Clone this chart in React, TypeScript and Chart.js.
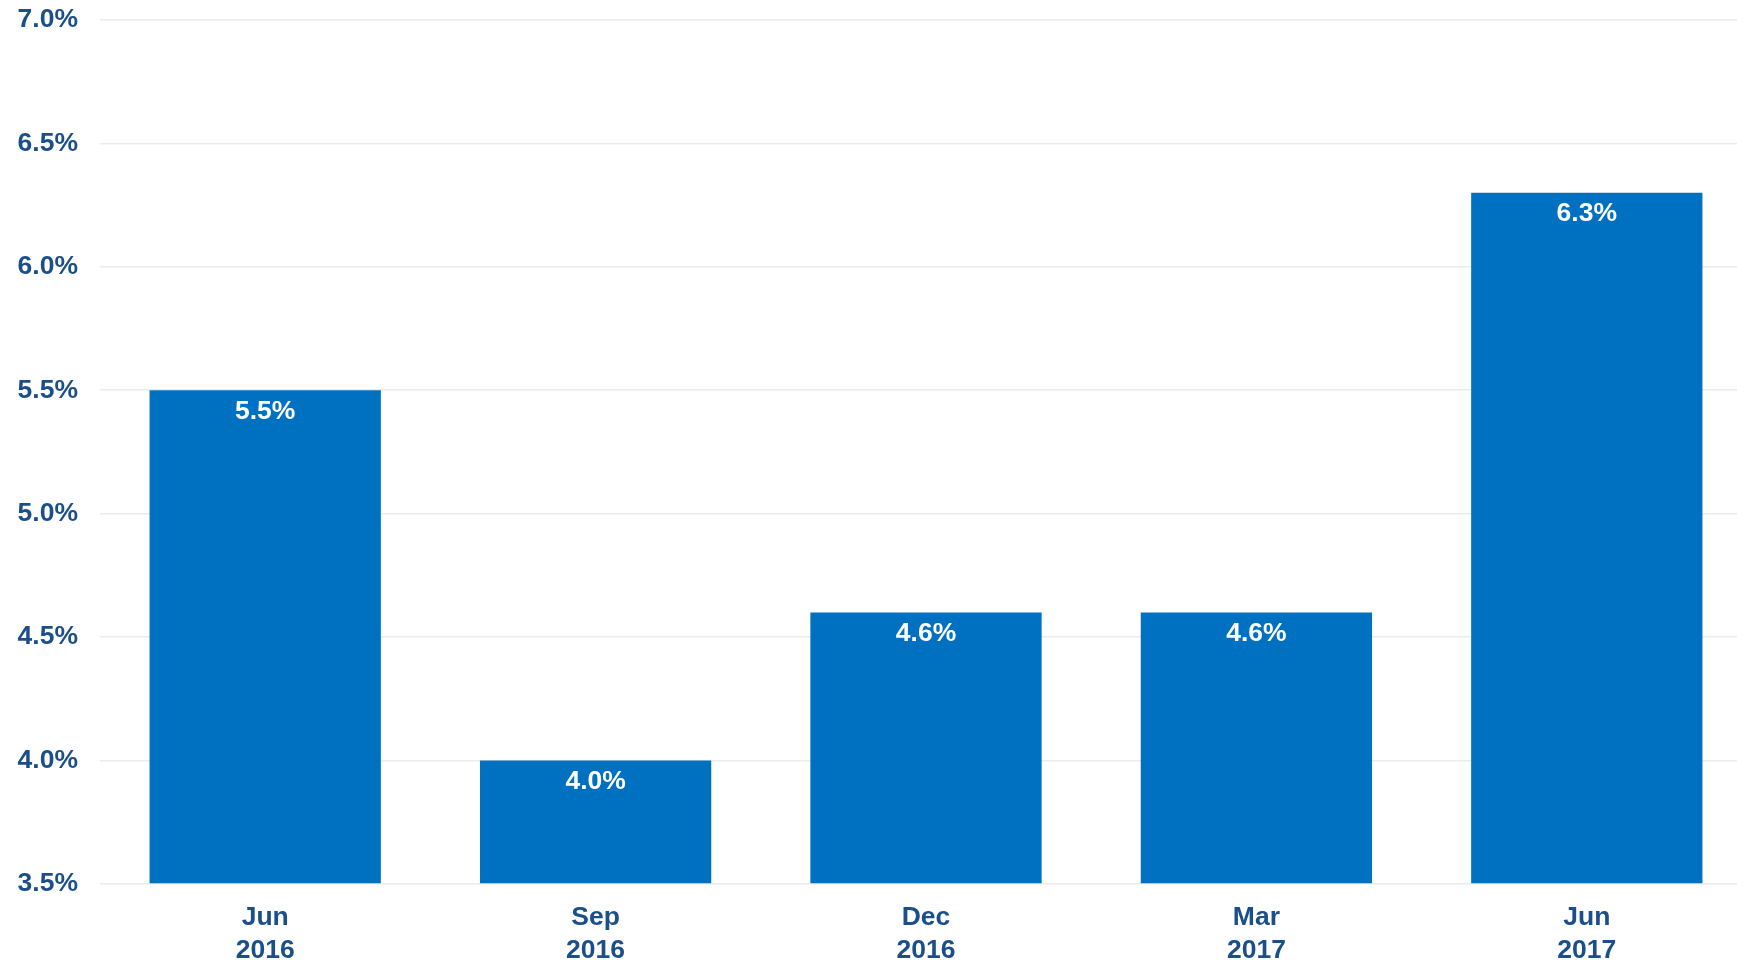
import React, { useEffect, useRef } from "react";
import { Chart, registerables } from "chart.js";

Chart.register(...registerables);

const categories: string[][] = [["Jun", "2016"], ["Sep", "2016"], ["Dec", "2016"], ["Mar", "2017"], ["Jun", "2017"]];
const values: number[] = [5.5, 4.0, 4.6, 4.6, 6.3];
const yMin = 3.5;
const yMax = 7.0;
const yStep = 0.5;

const FONT = "'Liberation Sans', Arial, sans-serif";
const LABEL_COLOR = "#1B4F8A";
const BAR_COLOR = "#0070C0";
const CANVAS_W = 1752;
const CANVAS_H = 981;
const CANVAS_TOP = -18;

const valueLabels = {
  id: "valueLabels",
  afterDatasetsDraw(chart: any) {
    const ctx = chart.ctx;
    const meta = chart.getDatasetMeta(0);
    ctx.save();
    ctx.fillStyle = "#ffffff";
    ctx.font = `bold 26.5px ${FONT}`;
    ctx.textAlign = "center";
    ctx.textBaseline = "middle";
    meta.data.forEach((bar: any, i: number) => {
      ctx.fillText(values[i].toFixed(1) + "%", bar.x, bar.y + 21);
    });
    ctx.restore();
  },
};

export default function App() {
  const ref = useRef<HTMLCanvasElement | null>(null);
  useEffect(() => {
    document.body.style.margin = "0";
    const chart = new Chart(ref.current!, {
      type: "bar",
      data: {
        labels: categories,
        datasets: [
          {
            data: values,
            backgroundColor: BAR_COLOR,
            categoryPercentage: 1,
            barPercentage: 0.7,
            base: yMin,
          },
        ],
      },
      options: {
        animation: false,
        responsive: false,
        maintainAspectRatio: false,
        layout: { padding: { top: 3, right: 0, left: 0, bottom: 0 } },
        plugins: { legend: { display: false }, tooltip: { enabled: false } },
        scales: {
          x: {
            grid: { display: false, drawTicks: false },
            border: { display: false },
            ticks: {
              color: LABEL_COLOR,
              font: { family: FONT, size: 26.5, weight: "bold", lineHeight: 1.22 },
              padding: 18,
              maxRotation: 0,
              autoSkip: false,
            },
            afterFit(scale: any) {
              scale.height = 79;
            },
          },
          y: {
            min: yMin,
            max: yMax,
            grid: { color: "#EBEBEB", drawTicks: false, lineWidth: 1.5 },
            border: { display: false },
            ticks: {
              stepSize: yStep,
              color: LABEL_COLOR,
              font: { family: FONT, size: 26.5, weight: "bold" },
              padding: 22,
              callback: (v: any) => Number(v).toFixed(1) + "%",
            },
            afterFit(scale: any) {
              scale.width = 100;
            },
          },
        },
      },
      plugins: [valueLabels],
    });
    return () => chart.destroy();
  }, []);
  return (
    <div style={{ position: "absolute", left: 0, top: 0, width: 1737, height: 963, overflow: "hidden", background: "#fff" }}>
      <canvas
        ref={ref}
        width={CANVAS_W}
        height={CANVAS_H}
        style={{ position: "absolute", left: 0, top: CANVAS_TOP, width: CANVAS_W, height: CANVAS_H, display: "block" }}
      />
    </div>
  );
}
